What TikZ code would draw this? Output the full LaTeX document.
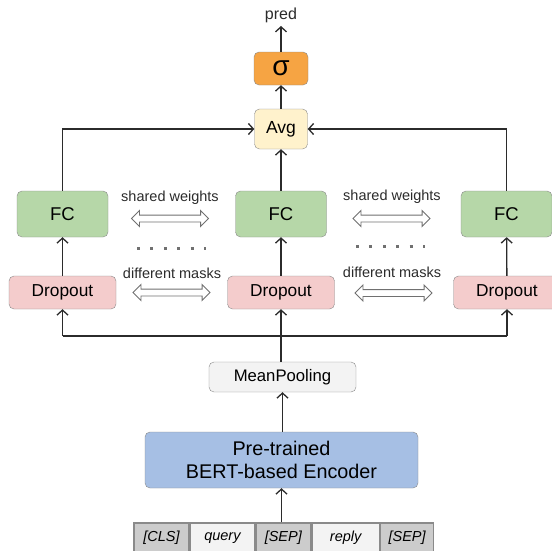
\documentclass[tikz,border=0pt]{standalone}
\usepackage{fontspec}
\setmainfont{Liberation Sans}
\usetikzlibrary{positioning}
\usetikzlibrary{arrows.meta}
\usetikzlibrary{shapes.arrows}

\definecolor{sigmaorange}{HTML}{F6A443}
\definecolor{avgyellow}{HTML}{FFF2CC}
\definecolor{fcgreen}{HTML}{B6D7A8}
\definecolor{droppink}{HTML}{F4CCCC}
\definecolor{poolgray}{HTML}{F3F3F3}
\definecolor{encblue}{HTML}{A6BFE4}
\definecolor{tokgray}{HTML}{CCCCCC}
\definecolor{edgegray}{HTML}{8A8A8A}
\definecolor{linedark}{HTML}{2B2B2B}
\definecolor{hintgray}{HTML}{707070}

\begin{document}
\begin{tikzpicture}[x=1pt, y=-1pt,
    box/.style={draw=edgegray, rounded corners=5pt, align=center, inner sep=0pt},
    fc/.style={box, fill=fcgreen, minimum width=91pt, minimum height=46pt, font=\fontsize{18.5}{20}\selectfont},
    drop/.style={box, fill=droppink, minimum width=107pt, minimum height=33pt, font=\fontsize{17.3}{19}\selectfont},
    token/.style={draw=edgegray, line width=1.4pt, minimum height=30pt, inner sep=0pt, font=\fontsize{14.5}{16}\selectfont\itshape},
    hint/.style={font=\fontsize{14.5}{16}\selectfont, text=linedark},
    twoway/.style={double arrow, draw=hintgray, line width=0.9pt, fill=white, minimum height=77pt, inner sep=3pt, double arrow head extend=4.5pt},
    dots/.style={hintgray, line width=3pt, dash pattern=on 3pt off 10.4pt},
    arrow/.style={-{Straight Barb[length=5pt, width=11pt]}, line width=1.3pt, linedark}
]
    \useasboundingbox (0,0) rectangle (552,550);
    \clip (0,0) rectangle (552,550);

    % input tokens
    \node[token, fill=tokgray, minimum width=55pt] (cls) at (161.5,538) {[CLS]};
    \node[token, fill=poolgray, minimum width=64pt, right=0pt of cls] (query) {query};
    \node[token, fill=tokgray, minimum width=55pt, right=0pt of query] (sep1) {[SEP]};
    \node[token, fill=poolgray, minimum width=67pt, right=0pt of sep1] (reply) {reply};
    \node[token, fill=tokgray, minimum width=53pt, right=0pt of reply] (sep2) {[SEP]};

    % encoder and pooling
    \node[box, fill=encblue, minimum width=273pt, minimum height=56pt, font=\fontsize{19.8}{23}\selectfont] (enc) at (281.5,460) {Pre-trained\\BERT-based Encoder};
    \node[box, fill=poolgray, minimum width=147pt, minimum height=30pt, font=\fontsize{16.7}{18}\selectfont] (pool) at (282.5,377) {MeanPooling};

    % three dropout / FC branches
    \node[drop] (dropL) at (62.5,292.5) {Dropout};
    \node[drop] (dropM) at (281,292.5) {Dropout};
    \node[drop] (dropR) at (507,292.5) {Dropout};
    \node[fc] (fcL) at (62.5,214) {FC};
    \node[fc] (fcM) at (281,214) {FC};
    \node[fc] (fcR) at (506.5,214) {FC};

    % head
    \node[box, fill=avgyellow, minimum width=53pt, minimum height=40pt, font=\fontsize{17.5}{19}\selectfont] (avg) at (281,129) {Avg};
    \node[box, fill=sigmaorange, minimum width=54pt, minimum height=33pt, font=\fontsize{28}{30}\selectfont] (sig) at (281,68.5) {σ};
    \node[hint, font=\fontsize{16}{18}\selectfont] (pred) at (281,15) {pred};

    % weight sharing / mask hints
    \node[hint] (sharedL) at (170,198) {shared weights};
    \node[twoway] (shareL) at (170,218.5) {};
    \node[hint] (masksL) at (172,273) {different masks};
    \node[twoway] (maskL) at (171.5,292.5) {};
    \node[hint] (sharedR) at (392,197) {shared weights};
    \node[twoway] (shareR) at (391.5,218.5) {};
    \node[hint] (masksR) at (392,272) {different masks};
    \node[twoway] (maskR) at (393.5,293) {};
    \draw[dots] (137,248) -- (206,248);
    \draw[dots] (356,246) -- (425,246);

    % connections
    \draw[arrow] (sep1.north -| enc.south) -- (enc.south);
    \draw[arrow] (enc.north -| pool.south) -- (pool.south);
    \draw[arrow] (pool.north -| dropM.south) -- (dropM.south);
    \coordinate (busL) at (dropL.south |- 0,336);
    \coordinate (busR) at (dropR.south |- 0,336);
    \draw[line width=1.3pt, linedark] (busL) -- (busR);
    \draw[arrow] (busL) -- (dropL.south);
    \draw[arrow] (busR) -- (dropR.south);
    \draw[arrow] (dropL) -- (fcL);
    \draw[arrow] (dropM) -- (fcM);
    \draw[arrow] (dropR) -- (fcR);
    \draw[arrow] (fcL.north) |- (avg.west);
    \draw[arrow] (fcR.north) |- (avg.east);
    \draw[arrow] (fcM) -- (avg);
    \draw[arrow] (avg) -- (sig);
    \draw[arrow] (sig) -- (pred);
\end{tikzpicture}
\end{document}
